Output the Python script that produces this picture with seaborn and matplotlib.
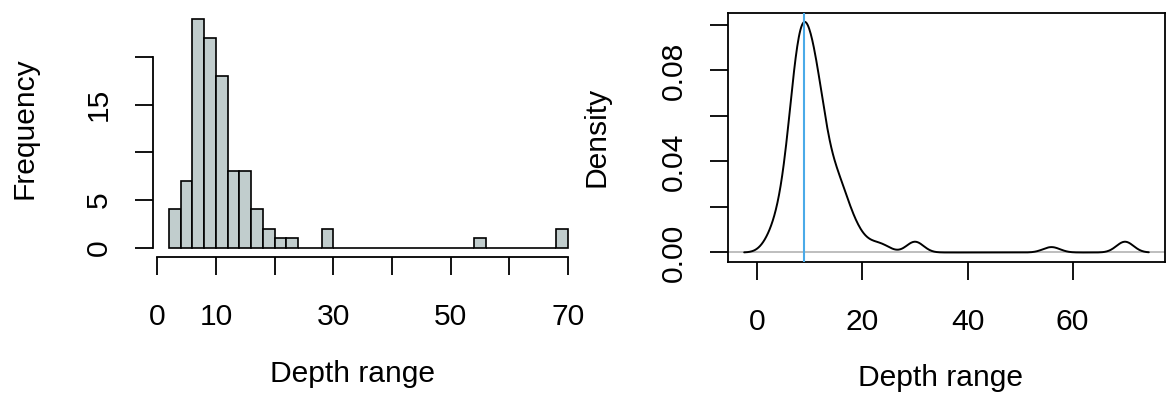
import numpy as np
import pandas as pd
import matplotlib
matplotlib.use("Agg")
import matplotlib.pyplot as plt
import seaborn as sns

# depth range values (integer depths) and how often each occurs
depth_values = [2, 3, 4, 5, 6, 7, 8, 9, 10, 11, 12, 13, 14, 15, 16, 17, 18,
                19, 20, 22, 24, 30, 56, 70]
depth_counts = [1, 1, 2, 3, 4, 10, 14, 10, 12, 8, 10, 4, 4, 4, 4, 2, 2,
                1, 1, 1, 1, 2, 1, 2]
bin_edges = list(range(2, 72, 2))
kde_bw = 1.62

x_ticks_left = [0, 10, 20, 30, 40, 50, 60, 70]
x_labels_left = ["0", "10", "", "30", "", "50", "", "70"]
y_ticks_left = [0, 5, 10, 15, 20]
y_labels_left = ["0", "5", "", "15", ""]
x_ticks_right = [0, 20, 40, 60]
y_ticks_right = [0.0, 0.02, 0.04, 0.06, 0.08, 0.10]
y_labels_right = ["0.00", "", "0.04", "", "0.08", ""]

depth = np.repeat(depth_values, depth_counts)

# R style hist: right closed bins
binned = pd.cut(depth, bin_edges, right=True, include_lowest=True)
hist_df = pd.DataFrame({
    "mid": [(a + b) / 2 for a, b in zip(bin_edges[:-1], bin_edges[1:])],
    "count": pd.Series(binned).value_counts(sort=False).values,
})

sns.set_style("ticks")
plt.rcParams["font.family"] = ["Liberation Sans", "DejaVu Sans"]
for k in ["text.color", "axes.labelcolor", "xtick.color", "ytick.color",
          "axes.edgecolor"]:
    plt.rcParams[k] = "black"
fs = 21.6
tick_len = 13
lw = 1.3

fig = plt.figure(figsize=(11.66, 3.93), dpi=100)
W, H = 1166, 393

# ---- left: histogram ----
ax1 = fig.add_axes([153 / W, 136.3 / H, 431 / W, 246.8 / H])
sns.histplot(data=hist_df, x="mid", weights="count", bins=bin_edges, ax=ax1,
             color="#C1CDCD", edgecolor="black", linewidth=1.2, alpha=1)
ax1.set_xlim(2 - 0.04 * 68, 70 + 0.04 * 68)
ax1.set_ylim(-0.04 * 24, 24 * 1.04)
sns.despine(ax=ax1)
ax1.spines["bottom"].set_bounds(0, 70)
ax1.spines["left"].set_bounds(0, 20)
for s in ax1.spines.values():
    s.set_linewidth(lw)
ax1.set_xticks(x_ticks_left)
ax1.set_xticklabels(x_labels_left)
ax1.set_yticks(y_ticks_left)
ax1.set_yticklabels(y_labels_left, rotation=90, va="center")
ax1.tick_params(axis="both", length=tick_len, width=lw, labelsize=fs,
                direction="out")
ax1.tick_params(axis="x", pad=20)
ax1.tick_params(axis="y", pad=16)
ax1.set_xlabel("Depth range", fontsize=fs)
ax1.set_ylabel("Frequency", fontsize=fs)
ax1.xaxis.set_label_coords(0.462, -0.42)
ax1.yaxis.set_label_coords(-0.265, 0.52)

# ---- right: density ----
ax2 = fig.add_axes([728 / W, 131.3 / H, 437 / W, 249 / H])
sd = np.std(depth, ddof=1)
sns.kdeplot(x=depth, bw_method=kde_bw / sd, cut=2.8, gridsize=512, ax=ax2,
            color="black", linewidth=1.4, zorder=3)
kx, ky = ax2.lines[0].get_data()
mode = kx[np.argmax(ky)]
ax2.axhline(0, color="#BEBEBE", linewidth=1.4, zorder=2)
ax2.axvline(mode, color="#4AAAE8", linewidth=1.5, zorder=4)
xr = kx.max() - kx.min()
ax2.set_xlim(kx.min() - 0.04 * xr, kx.max() + 0.04 * xr)
ax2.set_ylim(-0.04 * ky.max(), 1.04 * ky.max())
for s in ax2.spines.values():
    s.set_linewidth(lw)
ax2.set_xticks(x_ticks_right)
ax2.set_yticks(y_ticks_right)
ax2.set_yticklabels(y_labels_right, rotation=90, va="center")
ax2.tick_params(axis="both", length=tick_len, width=lw, labelsize=fs,
                direction="out")
ax2.tick_params(axis="x", pad=20)
ax2.tick_params(axis="y", pad=16)
ax2.set_xlabel("Depth range", fontsize=fs)
ax2.set_ylabel("Density", fontsize=fs)
ax2.xaxis.set_label_coords(0.487, -0.41)
ax2.yaxis.set_label_coords(-0.27, 0.5)

fig.savefig("out.png", dpi=100)
